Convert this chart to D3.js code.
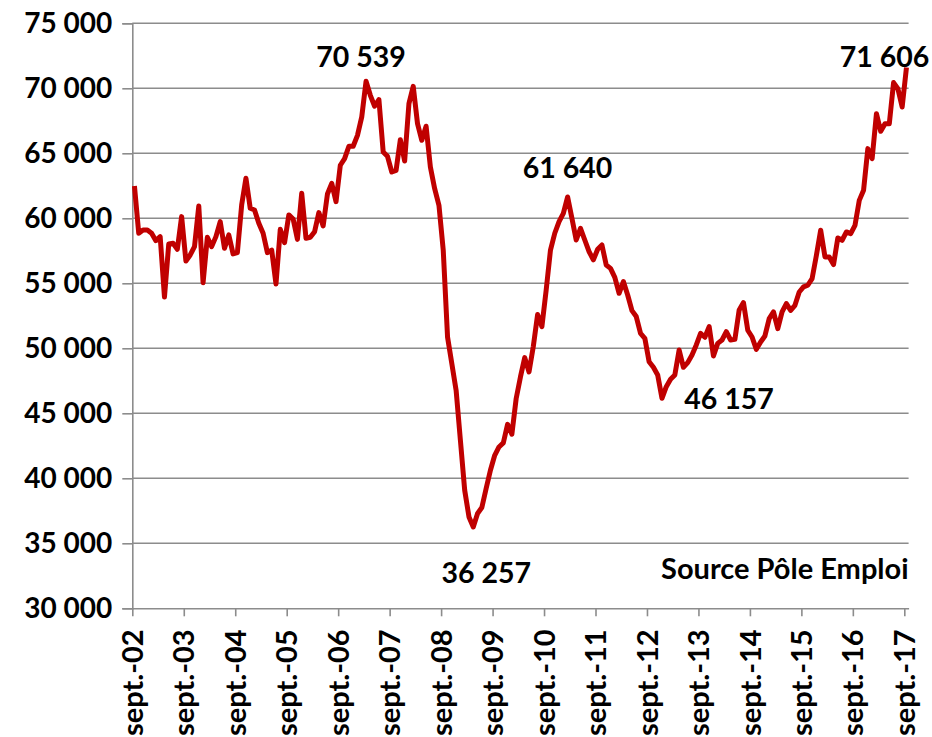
<!DOCTYPE html>
<html>
<head>
<meta charset="utf-8">
<script src="https://cdn.jsdelivr.net/npm/d3@7"></script>
<style>
  body { margin: 0; background: #fff; }
  svg { display: block; font-family: Lato, "Open Sans", sans-serif; font-weight: bold; }
</style>
</head>
<body>
<script>
// monthly values, sept. 2002 -> sept. 2017
const values = [
  62490, 58850, 59100, 59100, 58850, 58280, 58590, 53950, 58030, 58080, 57620, 60130,
  56720, 57180, 57820, 60950, 55050, 58540, 57820, 58590, 59740, 57690, 58720, 57260,
  57360, 61030, 63080, 60770, 60640, 59620, 58850, 57360, 57560, 54950, 59150, 58130,
  60260, 59950, 58380, 61920, 58460, 58540, 58970, 60440, 59410, 61870, 62690, 61280,
  64080, 64590, 65540, 65540, 66380, 67800, 70539, 69460, 68620, 69130, 65100, 64770,
  63560, 63690, 66050, 64410, 68820, 70150, 67280, 66000, 67080, 63950, 62280, 61000,
  57540, 50870, 48820, 46770, 42920, 39080, 37030, 36257, 37300, 37750, 39210, 40620,
  41770, 42410, 42720, 44150, 43390, 46130, 47800, 49280, 48180, 50150, 52600, 51670,
  54490, 57560, 58850, 59740, 60380, 61640, 60000, 58330, 59230, 58330, 57440, 56800,
  57620, 57950, 56410, 56150, 55460, 54230, 55130, 54100, 52900, 52440, 51150, 50770,
  48970, 48540, 47950, 46157, 47050, 47620, 47950, 49870, 48540, 48900, 49490, 50260,
  51150, 50850, 51670, 49410, 50380, 50640, 51280, 50640, 50690, 52950, 53520, 51390,
  50870, 49920, 50490, 50950, 52280, 52800, 51510, 52800, 53440, 52920, 53310, 54330,
  54720, 54850, 55360, 57150, 59080, 57030, 57030, 56440, 58490, 58310, 58950, 58820,
  59460, 61380, 62150, 65360, 64590, 68050, 66690, 67280, 67280, 70440, 69970, 68560,
  71606
];

const xTickLabels = ["sept.-02", "sept.-03", "sept.-04", "sept.-05", "sept.-06", "sept.-07",
  "sept.-08", "sept.-09", "sept.-10", "sept.-11", "sept.-12", "sept.-13", "sept.-14",
  "sept.-15", "sept.-16", "sept.-17"];

const yTicks = [30000, 35000, 40000, 45000, 50000, 55000, 60000, 65000, 70000, 75000];

// month index of the labelled points
const labelled = [54, 79, 101, 123, 180];

const source = "Source Pôle Emploi";

const w = 932;
const h = 737;

const x = d3.scaleLinear()
  .domain([0, values.length])
  .range([132.3, 908.6]);

const y = d3.scaleLinear()
  .domain([30000, 75000])
  .range([608.3, 23.3]);

const fmt = (d) => d3.format(",")(d).replace(/,/g, " ");

const svg = d3.select("body")
  .append("svg")
  .attr("width", w)
  .attr("height", h);

// gridlines
svg.append("g")
  .selectAll("line")
  .data(yTicks.slice(1))
  .enter()
  .append("line")
  .attr("x1", x(0))
  .attr("x2", x(values.length))
  .attr("y1", (d) => y(d))
  .attr("y2", (d) => y(d))
  .attr("stroke", "#8c8c8c")
  .attr("stroke-width", 1.6);

// y axis
const yAxis = d3.axisLeft(y)
  .tickValues(yTicks)
  .tickSize(10)
  .tickPadding(10)
  .tickFormat(fmt);

const gy = svg.append("g")
  .attr("transform", "translate(" + x(0) + ",0)")
  .call(yAxis);
gy.select(".domain").attr("stroke", "#8c8c8c").attr("stroke-width", 1.6);
gy.selectAll(".tick line").attr("stroke", "#8c8c8c").attr("stroke-width", 1.6);
gy.selectAll("text")
  .attr("font-size", 28)
  .attr("font-family", "Lato, sans-serif")
  .attr("font-weight", "bold")
  .attr("fill", "#000");

// x axis, one tick each september
const xAxis = d3.axisBottom(x)
  .tickValues(xTickLabels.map((d, i) => i * 12))
  .tickSize(8)
  .tickSizeOuter(0)
  .tickFormat((d) => xTickLabels[d / 12]);

const gx = svg.append("g")
  .attr("transform", "translate(0," + y(30000) + ")")
  .call(xAxis);
gx.select(".domain").attr("stroke", "#8c8c8c").attr("stroke-width", 1.6);
gx.selectAll(".tick line").attr("stroke", "#8c8c8c").attr("stroke-width", 1.6);
gx.selectAll("text")
  .attr("font-size", 29)
  .attr("font-family", "Lato, sans-serif")
  .attr("font-weight", "bold")
  .attr("fill", "#000")
  .attr("text-anchor", "end")
  .attr("transform", "rotate(-90)")
  .attr("x", -21)
  .attr("y", 0)
  .attr("dy", "0.35em");

// the series
const line = d3.line()
  .x((d, i) => x(i + 0.5))
  .y((d) => y(d))
  .curve(d3.curveLinear);

svg.append("path")
  .datum(values)
  .attr("d", line)
  .attr("fill", "none")
  .attr("stroke", "#c00000")
  .attr("stroke-width", 5)
  .attr("stroke-linejoin", "round");

// value labels
const offsets = {54: [-5, -14], 79: [13, 56], 101: [0, -19], 123: [67, 11], 180: [-22, 0]};

svg.append("g")
  .selectAll("text")
  .data(labelled)
  .enter()
  .append("text")
  .text((d) => fmt(values[d]))
  .attr("x", (d) => x(d + 0.5) + offsets[d][0])
  .attr("y", (d) => y(values[d]) + offsets[d][1])
  .attr("text-anchor", "middle")
  .attr("font-size", 28.5)
  .attr("fill", "#000");

svg.append("text")
  .text(source)
  .attr("x", x(values.length))
  .attr("y", y(32250))
  .attr("text-anchor", "end")
  .attr("font-size", 29)
  .attr("fill", "#000");
</script>
</body>
</html>
